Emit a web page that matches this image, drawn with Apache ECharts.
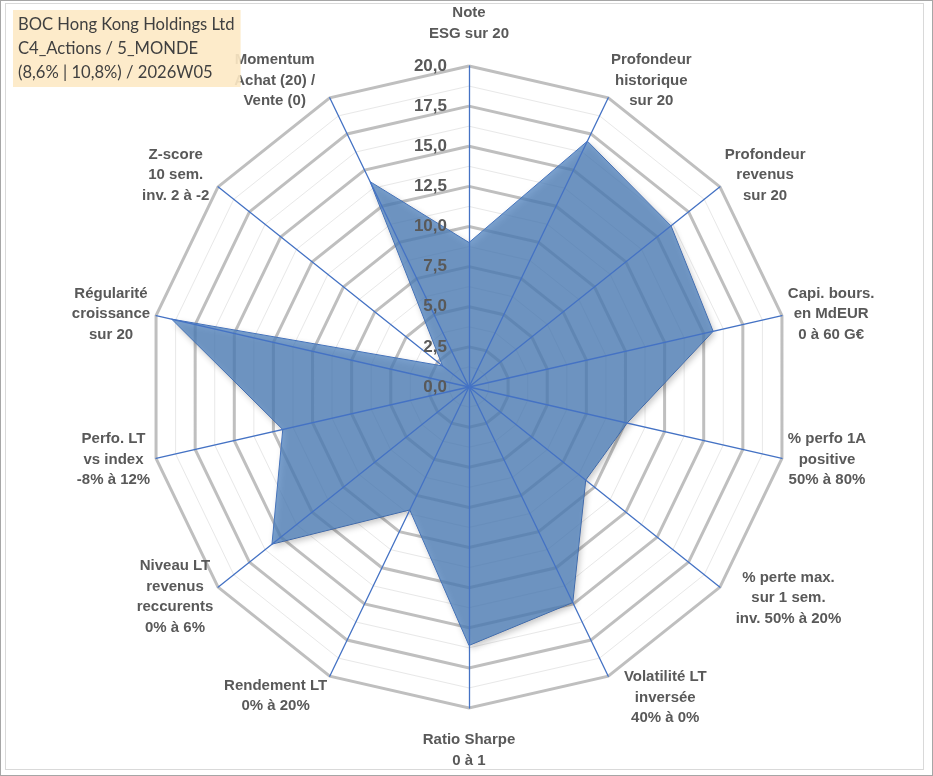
<!DOCTYPE html>
<html>
<head>
<meta charset="utf-8">
<script src="https://cdn.jsdelivr.net/npm/echarts@6/dist/echarts.min.js"></script>
<style>
    html, body { margin: 0; padding: 0; background: #fff; }
    #chart_radar { position: absolute; left: 0; top: 0; width: 933px; height: 776px; }
    .frame { position: absolute; pointer-events: none; box-sizing: border-box; }
    #outer { left: 0; top: 0; width: 933px; height: 776px; border: 1px solid #a6a6a6; }
    #inner { left: 5px; top: 3px; width: 919px; height: 767px; border: 1px solid #d9d9d9; }
</style>
</head>
<body>
<div id="chart_radar"></div>
<div class="frame" id="outer"></div>
<div class="frame" id="inner"></div>

<script>
    // axes, clockwise from the top
    var axisNames = [
        'Note\nESG sur 20',
        'Profondeur\nhistorique\nsur 20',
        'Profondeur\nrevenus\nsur 20',
        'Capi. bours.\nen MdEUR\n0 à 60 G€',
        '% perfo 1A\npositive\n50% à 80%',
        '% perte max.\nsur 1 sem.\ninv. 50% à 20%',
        'Volatilité LT\ninversée\n40% à 0%',
        'Ratio Sharpe\n0 à 1',
        'Rendement LT\n0% à 20%',
        'Niveau LT\nrevenus\nreccurents\n0% à 6%',
        'Perfo. LT\nvs index\n-8% à 12%',
        'Régularité\ncroissance\nsur 20',
        'Z-score\n10 sem.\ninv. 2 à -2',
        'Momentum\nAchat (20) /\nVente (0)'
    ];
    var scores = [9.0, 17.0, 16.1, 15.6, 10.1, 9.3, 14.9, 16.1, 8.5, 15.7, 11.9, 19.0, 2.1, 14.2];

    var scaleMin = 0;
    var scaleMax = 20;
    var majorSteps = 8;   // 2,5
    var minorSteps = 16;  // 1,25

    var titleLines = [
        'BOC Hong Kong Holdings Ltd',
        'C4_Actions / 5_MONDE',
        '(8,6% | 10,8%) / 2026W05'
    ];

    // small nudges of the axis names (px, right / down) to sit like Excel places them
    var nameShift = [[0, 0], [0, -12], [0, -8], [0, 0], [0, 0], [11, 7], [13, 16],
                     [0, 0], [0, 14], [0, 6], [0, 0], [0, 0], [-4, -8], [-12, -12]];

    // echarts turns counter-clockwise, so keep index 0 on top and reverse the rest
    var order = [0];
    for (var i = axisNames.length - 1; i > 0; i--) order.push(i);

    function buildIndicators(withLabel) {
        return order.map(function (k, n) {
            var ind = { name: axisNames[k], min: scaleMin, max: scaleMax };
            if (withLabel && n === 0) ind.axisLabel = { show: true };
            return ind;
        });
    }

    var center = [469, 387];
    var radius = 321;

    function gridRadar(steps, lineStyle, z) {
        return {
            center: center,
            radius: radius,
            shape: 'polygon',
            splitNumber: steps,
            indicator: buildIndicators(false),
            axisName: { show: false },
            axisLine: { show: false },
            axisTick: { show: false },
            axisLabel: { show: false },
            splitArea: { show: false },
            splitLine: { lineStyle: lineStyle },
            z: z
        };
    }

    var nameRich = { sp: { fontSize: 1, lineHeight: 16 } };
    axisNames.forEach(function (n, k) {
        var dx = nameShift[k][0], dy = nameShift[k][1];
        nameRich['c' + k] = {
            align: 'center',
            fontFamily: 'Liberation Sans',
            fontSize: 15,
            fontWeight: 'bold',
            color: '#595959',
            lineHeight: 20.5,
            padding: [0, Math.max(-dx, 0), 0, Math.max(dx, 0)]
        };
        nameRich['s' + k] = { fontSize: 1, lineHeight: Math.max(2 * Math.abs(dy), 1) };
    });

    var chart = echarts.init(document.getElementById('chart_radar'));

    var option = {
        animation: false,
        backgroundColor: '#fff',
        title: {
            text: titleLines.join('\n'),
            left: 13,
            top: 10,
            padding: [3, 6, 2, 5],
            backgroundColor: 'rgba(253,233,196,0.9)',
            z: 10,
            textStyle: {
                fontFamily: 'Lato',
                fontSize: 16.6,
                fontWeight: 'normal',
                color: '#404040',
                lineHeight: 24
            }
        },
        radar: [
            gridRadar(minorSteps, { color: '#e8e8e8', width: 1 }, 1),
            gridRadar(majorSteps, { color: '#bfbfbf', width: 3 }, 2),
            {
                // axes, names and tick labels above the filled area
                center: center,
                radius: radius,
                shape: 'polygon',
                splitNumber: majorSteps,
                indicator: buildIndicators(true),
                nameGap: 6,
                axisName: {
                    formatter: function (name) {
                        var k = axisNames.indexOf(name);
                        var dy = nameShift[k][1];
                        var lines = name.split('\n').map(function (l) {
                            return '{c' + k + '|' + l + '}';
                        });
                        if (k === 0) lines.push('{sp| }');
                        if (k === 7) lines.unshift('{sp| }');
                        if (dy < 0) lines.push('{s' + k + '| }');
                        if (dy > 0) lines.unshift('{s' + k + '| }');
                        return lines.join('\n');
                    },
                    rich: nameRich
                },
                axisLine: { lineStyle: { color: '#4472c4', width: 1.3 } },
                axisTick: { show: false },
                axisLabel: {
                    show: false,
                    margin: 22,
                    fontFamily: 'Liberation Sans',
                    fontSize: 17,
                    fontWeight: 'bold',
                    color: '#595959',
                    formatter: function (v) {
                        return v.toFixed(1).replace('.', ',');
                    }
                },
                splitArea: { show: false },
                splitLine: { show: false },
                z: 4
            }
        ],
        series: [
            {
                type: 'radar',
                radarIndex: 1,
                z: 3,
                symbol: 'none',
                lineStyle: { color: '#4472c4', width: 1 },
                areaStyle: {
                    color: 'rgba(79,129,189,0.75)',
                    opacity: 1,
                    shadowColor: 'rgba(0,0,0,0.3)',
                    shadowBlur: 6,
                    shadowOffsetX: 2,
                    shadowOffsetY: 3
                },
                data: [
                    { value: order.map(function (k) { return scores[k]; }) }
                ]
            }
        ]
    };
    chart.setOption(option);
</script>
</body>
</html>
